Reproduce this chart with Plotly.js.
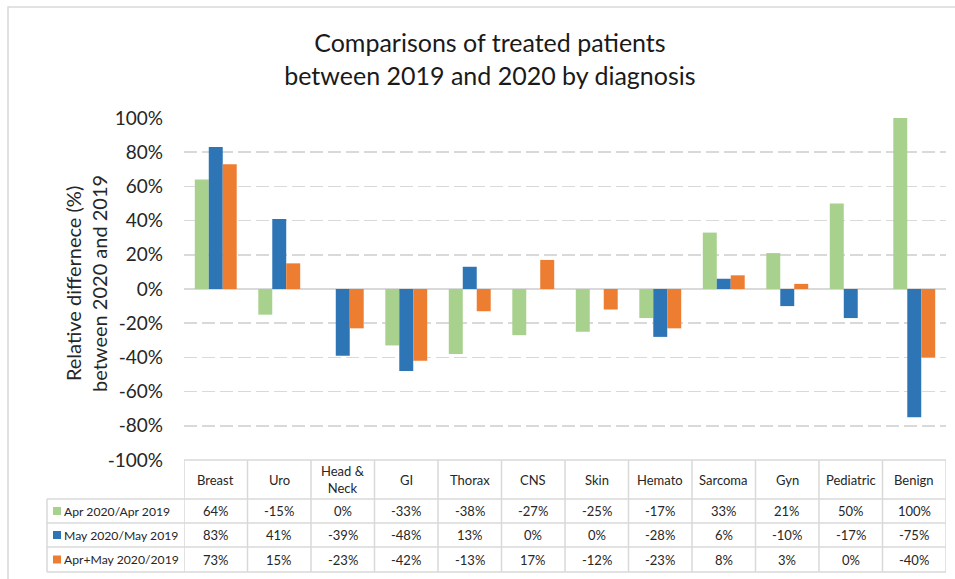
<!DOCTYPE html>
<html>
<head>
<meta charset="utf-8">
<script src="https://cdn.plot.ly/plotly-3.0.1.min.js"></script>
<style>html,body{margin:0;padding:0;background:#fff;}#chart{width:955px;height:579px;}</style>
</head>
<body>
<div id="chart"></div>
<script>
const categories = ['Breast','Uro','Head & Neck','GI','Thorax','CNS','Skin','Hemato','Sarcoma','Gyn','Pediatric','Benign'];
const headerLabels = ['Breast','Uro','Head &<br>Neck','GI','Thorax','CNS','Skin','Hemato','Sarcoma','Gyn','Pediatric','Benign'];
const seriesNames = ['Apr 2020/Apr 2019','May 2020/May 2019','Apr+May 2020/2019'];
const aprValues  = [0.64,-0.15,0.00,-0.33,-0.38,-0.27,-0.25,-0.17,0.33,0.21,0.50,1.00];
const mayValues  = [0.83,0.41,-0.39,-0.48,0.13,0.00,0.00,-0.28,0.06,-0.10,-0.17,-0.75];
const bothValues = [0.73,0.15,-0.23,-0.42,-0.13,0.17,-0.12,-0.23,0.08,0.03,0.00,-0.40];
const yTickVals  = [-1,-0.8,-0.6,-0.4,-0.2,0,0.2,0.4,0.6,0.8,1];
const yTickText  = ['-100%','-80%','-60%','-40%','-20%','0%','20%','40%','60%','80%','100%'];
const seriesValues = [aprValues, mayValues, bothValues];
const colors = ['#A9D18E','#2E75B6','#ED7D31'];

const W = 955, H = 579;
const L = 184, R = 946, T = 118, B = 460;
const px2py = p => (B - p) / (B - T);   // pixel y -> paper y
const px2px = p => (p - L) / (R - L);   // pixel x -> paper x

const FONT = 'Lato, "Open Sans", sans-serif';
const TXT = '#262626';
const GRID = '#D9D9D9';

const traces = seriesValues.map((vals, i) => ({
  type: 'bar', x: categories, y: vals, name: seriesNames[i],
  marker: {color: colors[i], line: {width: 0}}, hoverinfo: 'skip'
}));

const shapes = [];
const annotations = [];

shapes.push({type:'rect', xref:'paper', yref:'paper', x0: px2px(8), x1: px2px(1000), y0: px2py(640), y1: px2py(7),
  line:{color:'#D9D9D9', width:1.5}, fillcolor:'rgba(0,0,0,0)', layer:'below'});

const rowEdges = [460, 499, 523, 547, 572];
const legendLeft = 47;
shapes.push({type:'line', xref:'paper', yref:'paper', x0:0, x1:1, y0:px2py(rowEdges[0]), y1:px2py(rowEdges[0]), line:{color:GRID, width:1.5}});
for (let r = 1; r < rowEdges.length; r++) {
  shapes.push({type:'line', xref:'paper', yref:'paper', x0:px2px(legendLeft), x1:1, y0:px2py(rowEdges[r]), y1:px2py(rowEdges[r]), line:{color:GRID, width:1.5}});
}
for (let c = 0; c <= categories.length; c++) {
  shapes.push({type:'line', xref:'x', yref:'paper', x0:c-0.5, x1:c-0.5, y0:px2py(rowEdges[0]), y1:px2py(rowEdges[4]), line:{color:GRID, width:1.5}});
}
shapes.push({type:'line', xref:'paper', yref:'paper', x0:px2px(legendLeft), x1:px2px(legendLeft), y0:px2py(rowEdges[1]), y1:px2py(rowEdges[4]), line:{color:GRID, width:1.5}});

categories.forEach((c, i) => {
  annotations.push({xref:'x', yref:'paper', x:c, y:px2py((rowEdges[0]+rowEdges[1])/2), text:headerLabels[i],
    showarrow:false, font:{family:FONT, size:13, color:TXT}, xanchor:'center', yanchor:'middle'});
});
seriesValues.forEach((vals, r) => {
  const yc = px2py((rowEdges[r+1]+rowEdges[r+2])/2);
  shapes.push({type:'rect', xref:'paper', yref:'paper', x0:px2px(53), x1:px2px(61), y0:yc-4/342, y1:yc+4/342,
    line:{width:0}, fillcolor:colors[r]});
  annotations.push({xref:'paper', yref:'paper', x:px2px(62), y:yc, text:seriesNames[r], showarrow:false,
    font:{family:FONT, size:12.2, color:TXT}, xanchor:'left', yanchor:'middle'});
  vals.forEach((v, i) => {
    annotations.push({xref:'x', yref:'paper', x:categories[i], y:yc, text:Math.round(v*100)+'%', showarrow:false,
      font:{family:FONT, size:13, color:TXT}, xanchor:'center', yanchor:'middle'});
  });
});

annotations.push({xref:'paper', yref:'paper', x:px2px(86), y:px2py(283), textangle:-90,
  text:'Relative differnece (%)<br>between 2020 and 2019', showarrow:false,
  font:{family:FONT, size:20, color:TXT}, xanchor:'center', yanchor:'middle'});

const layout = {
  width: W, height: H,
  margin: {l: L, r: W - R, t: T, b: H - B, pad: 0},
  paper_bgcolor: '#fff', plot_bgcolor: '#fff',
  showlegend: false,
  barmode: 'group', bargap: 0.34, bargroupgap: 0,
  title: {text: 'Comparisons of treated patients<br>between 2019 and 2020 by diagnosis',
    font: {family: FONT, size: 25, color: '#1a1a1a'}, x: 0.513, xanchor: 'center', y: 1 - 52/579, yanchor: 'middle'},
  xaxis: {type: 'category', range: [-0.5, 11.5], showticklabels: false, showgrid: false, zeroline: false, showline: false, ticks: ''},
  yaxis: {range: [-1, 1], tickvals: yTickVals, ticktext: yTickText, showgrid: true, gridcolor: GRID, gridwidth: 1.5,
    griddash: '13px,5px', zeroline: true, zerolinecolor: GRID, zerolinewidth: 1.5, showline: false, ticks: '',
    ticklabelstandoff: 20, tickfont: {family: FONT, size: 19, color: TXT}},
  shapes: shapes, annotations: annotations
};

Plotly.newPlot('chart', traces, layout, {displayModeBar: false, staticPlot: true});
</script>
</body>
</html>
